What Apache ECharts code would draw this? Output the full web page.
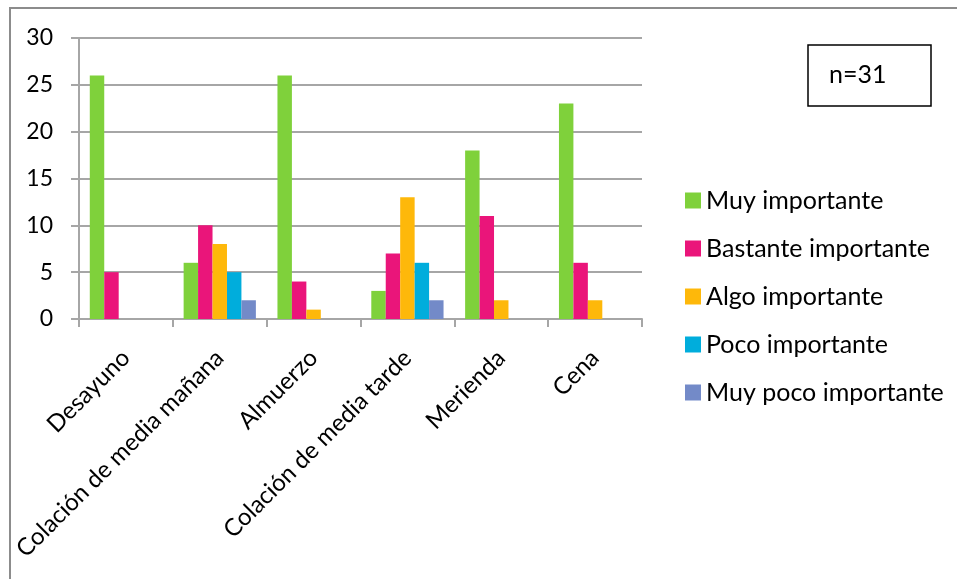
<!DOCTYPE html>
<html>
<head>
<meta charset="utf-8">
<script src="https://cdn.jsdelivr.net/npm/echarts@6/dist/echarts.min.js"></script>
<style>
  html, body { margin: 0; padding: 0; background: #ffffff; }
  #chart { width: 957px; height: 579px; }
</style>
</head>
<body>
<div id="chart"></div>
<script>
// Meal categories along the x axis
const categories = [
  'Desayuno',
  'Colación de media mañana',
  'Almuerzo',
  'Colación de media tarde',
  'Merienda',
  'Cena'
];

// Number of respondents per importance level
const muyImportante      = [26, 6, 26, 3, 18, 23];
const bastanteImportante = [5, 10, 4, 7, 11, 6];
const algoImportante     = [0, 8, 1, 13, 2, 2];
const pocoImportante     = [0, 5, 0, 6, 0, 0];
const muyPocoImportante  = [0, 2, 0, 2, 0, 0];

const seriesNames = [
  'Muy importante',
  'Bastante importante',
  'Algo importante',
  'Poco importante',
  'Muy poco importante'
];
const seriesValues = [muyImportante, bastanteImportante, algoImportante, pocoImportante, muyPocoImportante];
const seriesColors = ['#7FD13B', '#EA157A', '#FEB80A', '#00ADDC', '#738AC8'];

const yTicks = { min: 0, max: 30, interval: 5 };
const sampleNote = 'n=31';

const FONT = 'Lato';
const TEXT = '#000000';
const GRID_GRAY = '#A6A6A6';

const chart = echarts.init(document.getElementById('chart'), null, { renderer: 'canvas' });

chart.setOption({
  animation: false,
  backgroundColor: '#ffffff',
  textStyle: { fontFamily: FONT },
  grid: { left: 79, right: 315, top: 38, bottom: 260, containLabel: false },
  legend: {
    orient: 'vertical',
    left: 685,
    top: 188,
    padding: 0,
    itemWidth: 16,
    itemHeight: 16,
    itemGap: 23,
    icon: 'rect',
    textStyle: { fontFamily: FONT, fontSize: 25, color: TEXT },
    data: seriesNames
  },
  xAxis: {
    type: 'category',
    data: categories,
    axisLine: { show: true, lineStyle: { color: GRID_GRAY, width: 2 } },
    axisTick: { show: true, length: 8, alignWithLabel: false, lineStyle: { color: GRID_GRAY, width: 2 } },
    axisLabel: {
      interval: 0,
      rotate: 45,
      margin: 35,
      fontFamily: FONT,
      fontSize: 24,
      color: TEXT
    }
  },
  yAxis: {
    type: 'value',
    min: yTicks.min,
    max: yTicks.max,
    interval: yTicks.interval,
    axisLine: { show: true, lineStyle: { color: GRID_GRAY, width: 2 } },
    axisTick: { show: true, length: 8, lineStyle: { color: GRID_GRAY, width: 2 } },
    splitLine: { show: true, lineStyle: { color: GRID_GRAY, width: 2 } },
    axisLabel: { margin: 26, fontFamily: FONT, fontSize: 23, color: TEXT }
  },
  series: seriesNames.map((name, i) => ({
    name: name,
    type: 'bar',
    data: seriesValues[i],
    barGap: '0%',
    barCategoryGap: '23%',
    itemStyle: { color: seriesColors[i] }
  })),
  graphic: [
    {
      // outer frame of the chart area
      type: 'rect',
      shape: { x: 10, y: 8, width: 960, height: 590 },
      style: { fill: 'none', stroke: '#8C8C8C', lineWidth: 2 },
      silent: true,
      z: 0
    },
    {
      type: 'rect',
      shape: { x: 808, y: 45, width: 123, height: 61 },
      style: { fill: '#ffffff', stroke: '#000000', lineWidth: 1.5 },
      z: 10
    },
    {
      type: 'text',
      left: 829,
      top: 62,
      style: { text: sampleNote, fontFamily: FONT, fontSize: 25, fill: TEXT },
      z: 11
    }
  ]
});
</script>
</body>
</html>
